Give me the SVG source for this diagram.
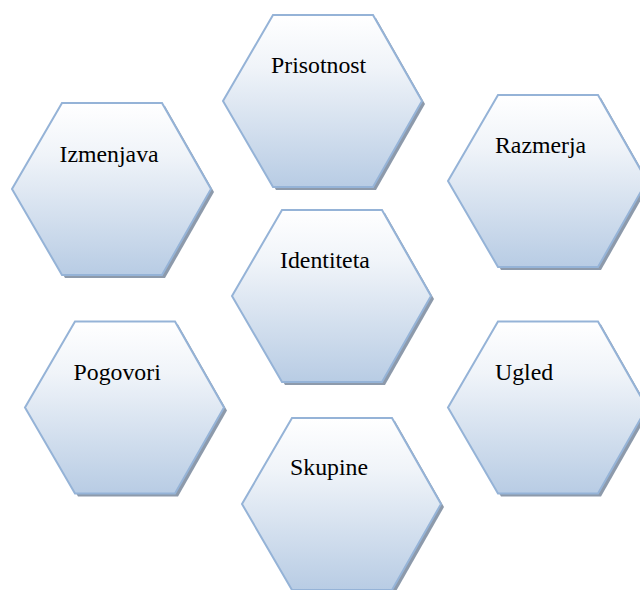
<svg xmlns="http://www.w3.org/2000/svg" xmlns:xlink="http://www.w3.org/1999/xlink" width="640" height="590" viewBox="0 0 640 590">
  <defs>
    <linearGradient id="hexFill" x1="0" y1="0" x2="0" y2="1">
      <stop offset="0" stop-color="#ffffff"/>
      <stop offset="0.3" stop-color="#f0f4f9"/>
      <stop offset="1" stop-color="#b8cce4"/>
    </linearGradient>
    <polygon id="hex" points="0,0 100,0 149,86 100,172 0,172 -50,86"/>
  </defs>
  <style>
    .shadow { fill: #8d9aab; }
    .hexShape { fill: url(#hexFill); stroke: #95b3d7; stroke-width: 2; stroke-linejoin: miter; }
    .label { font-size: 23.8px; fill: #000000; }
  </style>
  <rect width="640" height="590" fill="#ffffff"/>
  <g id="connectors"/>

  <g id="node-prisotnost" transform="translate(273,15)">
    <use xlink:href="#hex" class="shadow" transform="translate(3,3)"/>
    <use xlink:href="#hex" class="hexShape"/>
    <text class="label" font-family="'Times New Roman', 'Liberation Serif', serif" x="-2" y="58">Prisotnost</text>
  </g>

  <g id="node-razmerja" transform="translate(498,95)">
    <use xlink:href="#hex" class="shadow" transform="translate(3,3)"/>
    <use xlink:href="#hex" class="hexShape"/>
    <text class="label" font-family="'Times New Roman', 'Liberation Serif', serif" x="-3" y="58">Razmerja</text>
  </g>

  <g id="node-izmenjava" transform="translate(62,103)">
    <use xlink:href="#hex" class="shadow" transform="translate(3,3)"/>
    <use xlink:href="#hex" class="hexShape"/>
    <text class="label" font-family="'Times New Roman', 'Liberation Serif', serif" x="-2.5" y="58.5">Izmenjava</text>
  </g>

  <g id="node-identiteta" transform="translate(282,210)">
    <use xlink:href="#hex" class="shadow" transform="translate(3,3)"/>
    <use xlink:href="#hex" class="hexShape"/>
    <text class="label" font-family="'Times New Roman', 'Liberation Serif', serif" x="-2" y="58">Identiteta</text>
  </g>

  <g id="node-pogovori" transform="translate(75,321.5)">
    <use xlink:href="#hex" class="shadow" transform="translate(3,3)"/>
    <use xlink:href="#hex" class="hexShape"/>
    <text class="label" font-family="'Times New Roman', 'Liberation Serif', serif" x="-1.5" y="58.5">Pogovori</text>
  </g>

  <g id="node-ugled" transform="translate(498,321.5)">
    <use xlink:href="#hex" class="shadow" transform="translate(3,3)"/>
    <use xlink:href="#hex" class="hexShape"/>
    <text class="label" font-family="'Times New Roman', 'Liberation Serif', serif" x="-3" y="58.5">Ugled</text>
  </g>

  <g id="node-skupine" transform="translate(292,418)">
    <use xlink:href="#hex" class="shadow" transform="translate(3,3)"/>
    <use xlink:href="#hex" class="hexShape"/>
    <text class="label" font-family="'Times New Roman', 'Liberation Serif', serif" x="-2" y="57">Skupine</text>
  </g>
</svg>
